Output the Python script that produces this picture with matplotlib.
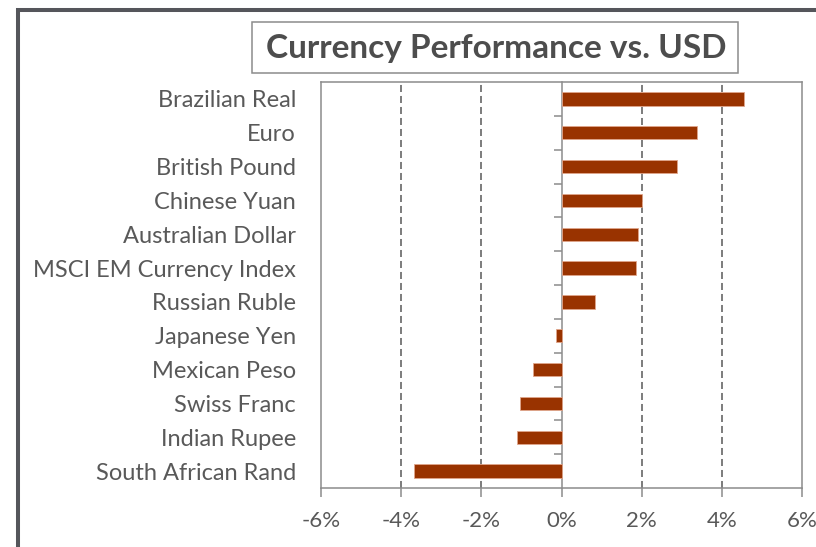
import numpy as np
import matplotlib
matplotlib.use('Agg')
import matplotlib.pyplot as plt
from matplotlib.patches import Rectangle

currencies = ['Brazilian Real', 'Euro', 'British Pound', 'Chinese Yuan',
              'Australian Dollar', 'MSCI EM Currency Index', 'Russian Ruble',
              'Japanese Yen', 'Mexican Peso', 'Swiss Franc', 'Indian Rupee',
              'South African Rand']
changes = [4.55, 3.39, 2.88, 2.02, 1.92, 1.85, 0.83,
           -0.14, -0.72, -1.04, -1.11, -3.69]
xticks = [-6, -4, -2, 0, 2, 4, 6]
title = 'Currency Performance vs. USD'

plt.rcParams['font.family'] = ['Lato', 'DejaVu Sans']
text_col = '#595959'
axis_col = '#8c8c8c'

fig = plt.figure(figsize=(8.16, 5.47), dpi=100)
W, H = 816, 547

# outer frame (only top/left edges visible, rest cut off)
fig.add_artist(Rectangle((18 / W, -0.2), 1.5, (1 - 10 / H) + 0.2,
                         transform=fig.transFigure, fill=False,
                         edgecolor='#55565b', linewidth=2.9, clip_on=False))

ax = fig.add_axes([321 / W, 1 - 488 / H, 481 / W, 406 / H])
ypos = np.arange(len(currencies))
ax.barh(ypos, changes, height=0.39, color='#993300',
        edgecolor='#e0a68c', linewidth=0.6, zorder=3)
ax.set_xlim(xticks[0], xticks[-1])
ax.set_ylim(len(currencies) - 0.5, -0.5)

ax.set_xticks(xticks)
ax.set_xticklabels([f'{t}%' for t in xticks])
ax.set_yticks(ypos)
ax.set_yticklabels(currencies)
ax.tick_params(axis='y', length=0, pad=18, labelsize=17, labelcolor=text_col)
ax.tick_params(axis='x', length=6.5, width=1.1, color=axis_col, pad=10,
               labelsize=16, labelcolor=text_col)

for t in xticks[1:-1]:
    if t != 0:
        ax.axvline(t, color='#595959', linewidth=1.1,
                   linestyle=(0, (4.6, 2.6)), zorder=1)

for s in ax.spines.values():
    s.set_color(axis_col)
    s.set_linewidth(1.1)

# zero axis with category separator ticks pointing left
zero = ax.secondary_yaxis((0 - xticks[0]) / (xticks[-1] - xticks[0]))
zero.set_yticks(ypos[:-1] + 0.5)
zero.tick_params(axis='y', direction='in', length=6, width=1.1, color=axis_col,
                 labelleft=False, labelright=False)
for s in zero.spines.values():
    s.set_color(axis_col)
    s.set_linewidth(1.1)

# title box
fig.add_artist(Rectangle((252 / W, 1 - 73 / H), (738 - 252) / W, (73 - 22) / H,
                         transform=fig.transFigure, fill=False,
                         edgecolor=axis_col, linewidth=1.1))
fig.text(496 / W, 1 - 58.3 / H, title, ha='center', va='baseline',
         fontsize=24, fontweight='bold', color='#4d4d4d')

fig.savefig('out.png', dpi=100)
